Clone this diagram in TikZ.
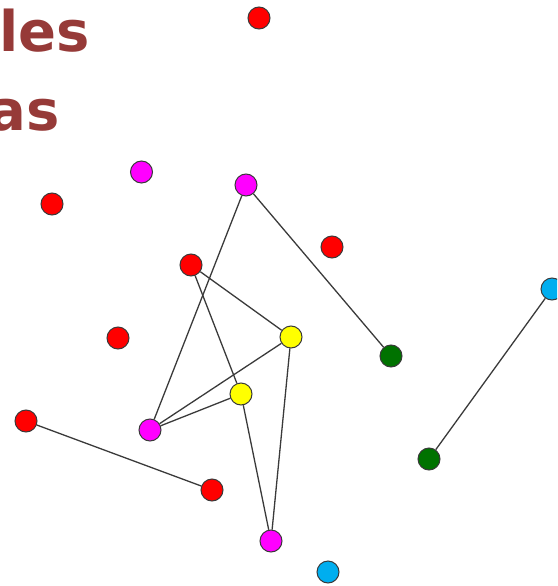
\documentclass[tikz,border=0pt]{standalone}
\usepackage{fontspec}
\newfontfamily\titlefont{DejaVu Sans}
\definecolor{titlered}{HTML}{963A38}
\definecolor{nodered}{HTML}{FF0000}
\definecolor{nodemagenta}{HTML}{FF00FF}
\definecolor{nodeyellow}{HTML}{FFFF00}
\definecolor{nodecyan}{HTML}{00AEEF}
\definecolor{nodegreen}{HTML}{007200}
\definecolor{edgegray}{HTML}{3A3A3A}
\begin{document}
\begin{tikzpicture}[x=1pt, y=-1pt]
    % Define styles
    \tikzstyle{vertex} = [circle, draw=edgegray, line width=1pt, minimum size=22pt, inner sep=0pt]
    \tikzstyle{link} = [draw=edgegray, line width=1.3pt]
    \tikzstyle{title} = [font=\titlefont\bfseries\fontsize{56}{66}\selectfont, text=titlered, inner sep=0pt, anchor=base east]

    \useasboundingbox (0,0) rectangle (557,586);
    \clip (0,0) rectangle (557,586);

    % Title fragments
    \node[title] (tline1) at (90,52) {les};
    \node[title] (tline2) at (60,130) {as};

    % Nodes
    \node[vertex, fill=nodered] (r1) at (259,18) {};
    \node[vertex, fill=nodemagenta] (m1) at (141.5,172) {};
    \node[vertex, fill=nodemagenta] (m2) at (246,185) {};
    \node[vertex, fill=nodered] (r2) at (52,204) {};
    \node[vertex, fill=nodered] (r3) at (332,247) {};
    \node[vertex, fill=nodered] (r4) at (191,265) {};
    \node[vertex, fill=nodecyan] (c1) at (552,289) {};
    \node[vertex, fill=nodeyellow] (y1) at (291,337) {};
    \node[vertex, fill=nodered] (r5) at (118,338) {};
    \node[vertex, fill=nodegreen] (g1) at (391,356) {};
    \node[vertex, fill=nodeyellow] (y2) at (241,394) {};
    \node[vertex, fill=nodered] (r6) at (26,421) {};
    \node[vertex, fill=nodemagenta] (m3) at (150,430) {};
    \node[vertex, fill=nodegreen] (g2) at (429,459) {};
    \node[vertex, fill=nodered] (r7) at (212,490) {};
    \node[vertex, fill=nodemagenta] (m4) at (271,541) {};
    \node[vertex, fill=nodecyan] (c2) at (328,572) {};

    % Edges
    \draw[link] (m2) -- (m3);
    \draw[link] (m2) -- (g1);
    \draw[link] (r4) -- (y1);
    \draw[link] (r4) -- (y2);
    \draw[link] (y1) -- (m3);
    \draw[link] (y1) -- (m4);
    \draw[link] (y2) -- (m3);
    \draw[link] (y2) -- (m4);
    \draw[link] (r6) -- (r7);
    \draw[link] (c1) -- (g2);
\end{tikzpicture}
\end{document}
